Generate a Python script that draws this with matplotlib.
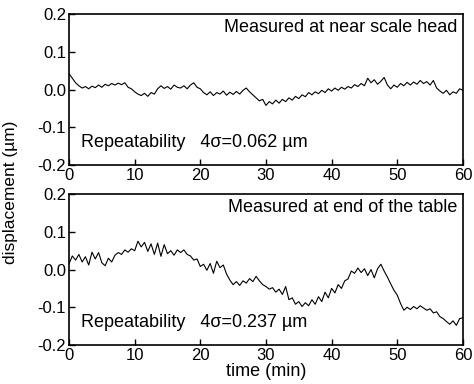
import numpy as np
import matplotlib
matplotlib.use("Agg")
import matplotlib.pyplot as plt

plt.rcParams['font.family'] = ['Liberation Sans', 'DejaVu Sans']

# time axis, one reading every half minute
time_min = np.arange(0, 60.5, 0.5)

near_head = [
    0.042, 0.030, 0.018, 0.010, 0.004, 0.008, 0.002, 0.009, 0.005, 0.012,
    0.006, 0.014, 0.010, 0.016, 0.012, 0.017, 0.013, 0.018, 0.006, 0.002,
    -0.006, -0.012, -0.016, -0.010, -0.018, -0.008, -0.012, 0.002, 0.010, 0.003,
    0.008, 0.001, 0.012, 0.006, 0.004, 0.010, 0.002, 0.012, 0.018, 0.006,
    0.002, -0.008, -0.014, -0.006, -0.016, -0.008, -0.012, -0.004, -0.015, -0.007,
    -0.013, -0.005, -0.012, -0.002, 0.004, -0.006, -0.014, -0.022, -0.030, -0.026,
    -0.042, -0.032, -0.038, -0.028, -0.036, -0.026, -0.032, -0.022, -0.028, -0.018,
    -0.024, -0.014, -0.019, -0.008, -0.014, -0.006, -0.011, -0.002, -0.008, 0.002,
    -0.004, 0.004, -0.002, 0.006, 0.001, 0.008, 0.004, 0.013, 0.008, 0.016,
    0.010, 0.030, 0.018, 0.026, 0.014, 0.022, 0.032, 0.012, 0.002, 0.012,
    0.006, 0.016, 0.010, 0.019, 0.012, 0.020, 0.014, 0.024, 0.016, 0.021,
    0.012, 0.024, 0.004, -0.004, -0.010, -0.002, -0.014, -0.006, -0.010, 0.002,
    -0.002,
]

table_end = [
    0.015, 0.036, 0.025, 0.040, 0.020, 0.034, 0.012, 0.046, 0.028, 0.045,
    0.018, 0.010, 0.030, 0.020, 0.038, 0.045, 0.040, 0.052, 0.046, 0.055,
    0.050, 0.075, 0.060, 0.072, 0.048, 0.068, 0.040, 0.070, 0.035, 0.066,
    0.042, 0.050, 0.038, 0.052, 0.045, 0.052, 0.040, 0.036, 0.025, 0.028,
    0.008, 0.014, -0.002, 0.016, -0.010, 0.022, 0.005, 0.012, -0.012, -0.028,
    -0.040, -0.032, -0.042, -0.030, -0.036, -0.024, -0.032, -0.018, -0.030, -0.040,
    -0.045, -0.052, -0.048, -0.060, -0.052, -0.066, -0.045, -0.080, -0.075, -0.092,
    -0.085, -0.098, -0.088, -0.096, -0.080, -0.092, -0.072, -0.085, -0.060, -0.075,
    -0.050, -0.062, -0.040, -0.050, -0.030, -0.025, -0.004, -0.010, 0.004, -0.008,
    0.002, -0.016, 0.000, -0.022, 0.002, 0.014, -0.004, -0.020, -0.038, -0.055,
    -0.068, -0.090, -0.108, -0.100, -0.106, -0.098, -0.104, -0.096, -0.102, -0.108,
    -0.104, -0.115, -0.112, -0.125, -0.130, -0.138, -0.145, -0.136, -0.148, -0.130,
    -0.128,
]

titles = ["Measured at near scale head", "Measured at end of the table"]
repeat_labels = ["Repeatability   4\u03c3=0.062 \u00b5m",
                 "Repeatability   4\u03c3=0.237 \u00b5m"]
yticks = [-0.2, -0.1, 0.0, 0.1, 0.2]
ytick_labels = ["-0.2", "-0.1", "0.0", "0.1", "0.2"]
xticks = [0, 10, 20, 30, 40, 50, 60]

fig = plt.figure(figsize=(4.74, 3.84), dpi=100)
ax1 = fig.add_axes([0.1456, 0.5703, 0.831, 0.393])
ax2 = fig.add_axes([0.1456, 0.1016, 0.831, 0.393])

for ax, y, title, rep in zip([ax1, ax2], [near_head, table_end], titles, repeat_labels):
    ax.plot(time_min, y, color='black', lw=0.8)
    ax.set_xlim(0, 60)
    ax.set_ylim(-0.2, 0.2)
    ax.set_xticks(xticks)
    ax.set_yticks(yticks)
    ax.set_yticklabels(ytick_labels)
    ax.tick_params(direction='in', length=4, width=1, labelsize=12, pad=2)
    for s in ax.spines.values():
        s.set_linewidth(1.2)
    ax.text(0.985, 0.91, title, transform=ax.transAxes, ha='right', va='center', fontsize=13)
    ax.text(0.03, 0.15, rep, transform=ax.transAxes, ha='left', va='center', fontsize=13)

ax2.set_xlabel("time (min)", fontsize=13, labelpad=0)
fig.text(0.022, 0.5, "displacement (\u00b5m)", rotation=90, ha='center', va='center', fontsize=12.5)

fig.savefig("out.png", dpi=100)
